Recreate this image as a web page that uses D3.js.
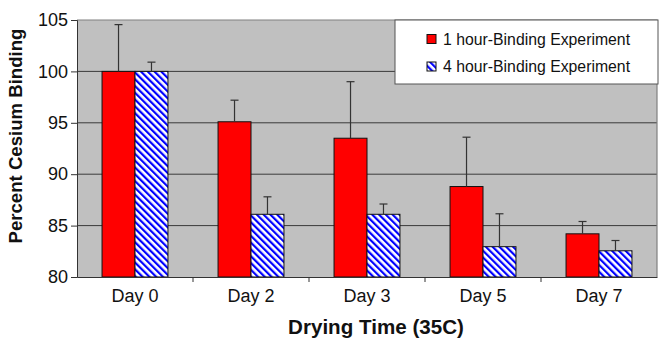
<!DOCTYPE html>
<html>
<head>
<meta charset="utf-8">
<script src="https://cdn.jsdelivr.net/npm/d3@7"></script>
<style>
  html, body { margin: 0; padding: 0; background: #fff; }
  svg { display: block; font-family: "Liberation Sans", Arial, sans-serif; }
</style>
</head>
<body>
<svg id="chart" width="659" height="338"></svg>
<script>
// Cesium binding after drying at 35C
const days = ["Day 0", "Day 2", "Day 3", "Day 5", "Day 7"];
const seriesNames = ["1 hour-Binding Experiment", "4 hour-Binding Experiment"];
const oneHour = [100, 95.1, 93.5, 88.8, 84.2];
const oneHourErr = [4.55, 2.1, 5.5, 4.8, 1.2];
const fourHour = [100, 86.1, 86.1, 82.95, 82.55];
const fourHourErr = [0.9, 1.7, 1.0, 3.2, 1.0];
const yTicks = [80, 85, 90, 95, 100, 105];

const svg = d3.select("#chart");
const m = { left: 77, right: 657, top: 20, bottom: 277 };
const FONT = "Liberation Sans, Arial, sans-serif";

// diagonal blue hatch running top-left to bottom-right
const defs = svg.append("defs");
const pat = defs.append("pattern")
  .attr("id", "hatch")
  .attr("patternUnits", "userSpaceOnUse")
  .attr("width", 4.8).attr("height", 4.8)
  .attr("patternTransform", "rotate(-45)");
pat.append("rect").attr("width", 4.8).attr("height", 4.8).attr("fill", "#fff");
pat.append("rect").attr("x", 0).attr("width", 2.2).attr("height", 4.8).attr("fill", "#0000ff");

const x = d3.scaleBand().domain(days).range([m.left, m.right]);
const xs = d3.scaleBand().domain([0, 1]).range([0, x.bandwidth()]).paddingOuter(0.76);
const y = d3.scaleLinear().domain([80, 105]).range([m.bottom, m.top]);

// plot area
svg.append("rect")
  .attr("x", m.left).attr("y", m.top)
  .attr("width", m.right - m.left).attr("height", m.bottom - m.top)
  .attr("fill", "#c0c0c0");

// gridlines
svg.append("g").selectAll("line").data(yTicks.slice(1, -1)).join("line")
  .attr("x1", m.left).attr("x2", m.right)
  .attr("y1", d => y(d)).attr("y2", d => y(d))
  .attr("stroke", "#3a3a3a").attr("stroke-width", 1);

// frame top/right
svg.append("path")
  .attr("d", `M${m.left},${m.top}H${m.right}V${m.bottom}`)
  .attr("fill", "none").attr("stroke", "#808080").attr("stroke-width", 1.2);

const series = [
  { vals: oneHour, err: oneHourErr, fill: "#ff0000" },
  { vals: fourHour, err: fourHourErr, fill: "url(#hatch)" }
];

series.forEach((s, si) => {
  const g = svg.append("g");
  g.selectAll("rect").data(days).join("rect")
    .attr("x", d => x(d) + xs(si))
    .attr("width", xs.bandwidth())
    .attr("y", (d, i) => y(s.vals[i]))
    .attr("height", (d, i) => y(80) - y(s.vals[i]))
    .attr("fill", s.fill)
    .attr("stroke", "#111").attr("stroke-width", 1);
  // error bars (upper only)
  const eg = svg.append("g").attr("stroke", "#333").attr("stroke-width", 1.2);
  days.forEach((d, i) => {
    const cx = x(d) + xs(si) + xs.bandwidth() / 2;
    eg.append("line").attr("x1", cx).attr("x2", cx)
      .attr("y1", y(s.vals[i])).attr("y2", y(s.vals[i] + s.err[i]));
    eg.append("line").attr("x1", cx - 4).attr("x2", cx + 4)
      .attr("y1", y(s.vals[i] + s.err[i])).attr("y2", y(s.vals[i] + s.err[i]));
  });
});

// y axis
const yAxis = svg.append("g").attr("transform", `translate(${m.left},0)`)
  .call(d3.axisLeft(y).tickValues(yTicks).tickSize(6).tickPadding(3));
yAxis.select(".domain").attr("stroke", "#333");
yAxis.selectAll(".tick line").attr("stroke", "#333");
yAxis.selectAll("text").attr("font-size", 18).attr("fill", "#111").attr("font-family", FONT);

// x axis
const xAxis = svg.append("g").attr("transform", `translate(0,${m.bottom})`)
  .call(d3.axisBottom(x).tickSize(0).tickPadding(12));
xAxis.select(".domain").attr("stroke", "#333");
xAxis.selectAll("text").attr("font-size", 18).attr("fill", "#111").attr("font-family", FONT);
svg.append("g").selectAll("line").data(days.slice(1)).join("line")
  .attr("x1", d => x(d)).attr("x2", d => x(d))
  .attr("y1", m.bottom).attr("y2", m.bottom + 5)
  .attr("stroke", "#333");

// axis titles
svg.append("text")
  .attr("transform", `translate(17,136) rotate(-90)`)
  .attr("text-anchor", "middle").attr("dominant-baseline", "middle")
  .attr("font-size", 18.6).attr("font-weight", "bold").attr("fill", "#111")
  .text("Percent Cesium Binding");
svg.append("text")
  .attr("x", 376).attr("y", 334)
  .attr("text-anchor", "middle")
  .attr("font-size", 20.6).attr("font-weight", "bold").attr("fill", "#111")
  .text("Drying Time (35C)");

// legend
const lg = svg.append("g");
lg.append("rect").attr("x", 395).attr("y", 20).attr("width", 263).attr("height", 64)
  .attr("fill", "#fff").attr("stroke", "#555").attr("stroke-width", 1);
seriesNames.forEach((name, i) => {
  const ly = 39 + i * 27.5;
  lg.append("rect").attr("x", 427).attr("y", ly - 4.5).attr("width", 9).attr("height", 9)
    .attr("fill", i === 0 ? "#ff0000" : "url(#hatch)").attr("stroke", "#111").attr("stroke-width", 1);
  lg.append("text").attr("x", 443).attr("y", ly).attr("dominant-baseline", "central")
    .attr("font-size", 15.8).attr("fill", "#111").text(name);
});
</script>
</body>
</html>
